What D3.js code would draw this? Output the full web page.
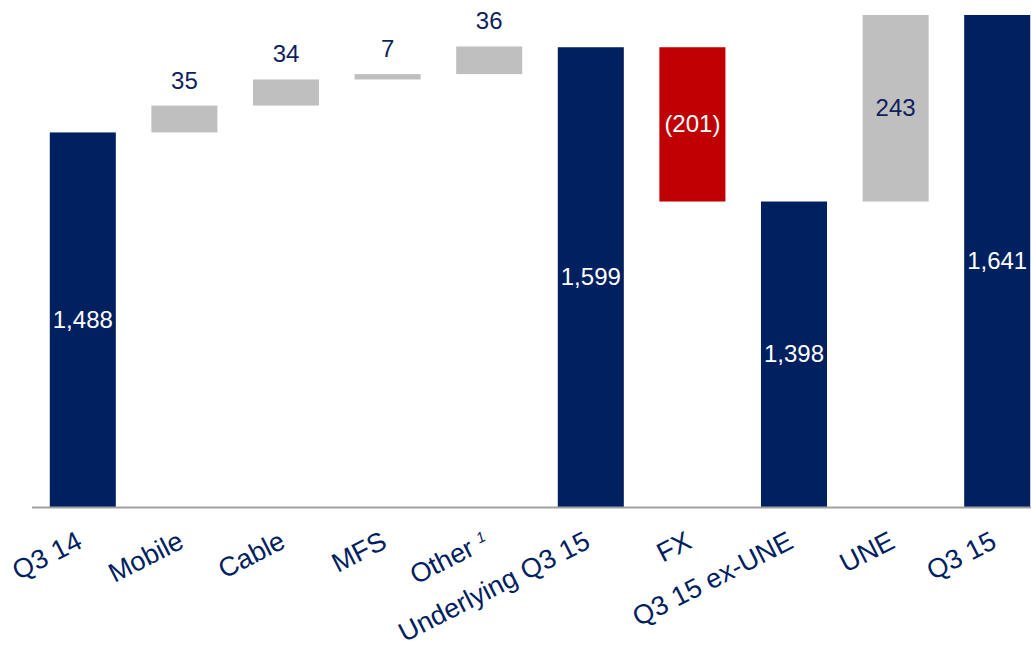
<!DOCTYPE html>
<html><head><meta charset="utf-8">
<script src="https://cdn.jsdelivr.net/npm/d3@7"></script>
<style>body{margin:0;background:#fff;} svg{display:block;}</style>
</head><body>
<svg id="chart" width="1031" height="649"></svg>
<script>
const categories = ["Q3 14","Mobile","Cable","MFS","Other","Underlying Q3 15","FX","Q3 15 ex-UNE","UNE","Q3 15"];
const values = [1488, 35, 34, 7, 36, 1599, -201, 1398, 243, 1641];
const kinds = ["total","delta","delta","delta","delta","total","delta","total","delta","total"];
const valueLabels = ["1,488","35","34","7","36","1,599","(201)","1,398","243","1,641"];
const axisMin = 1000;

const W = 1031, H = 649;
const svg = d3.select("#chart");
const navy = "#002060", red = "#C00000", gray = "#BFBFBF", textNavy = "#0f1f5c";

const x = d3.scaleBand().domain(categories).range([32, 1048]).paddingInner(0.35).paddingOuter(0.175);
const y = d3.scaleLinear().domain([axisMin, d3.max(values)]).range([507, 15]);

let run = 0;
const bars = categories.map((c, i) => {
  let lo, hi;
  if (kinds[i] === "total") { lo = axisMin; hi = values[i]; run = values[i]; }
  else { lo = run; hi = run + values[i]; run = hi; }
  return {c, i, y0: Math.min(lo, hi), y1: Math.max(lo, hi), kind: kinds[i], v: values[i]};
});

const color = d => d.kind === "total" ? navy : (d.v < 0 ? red : gray);

svg.append("g").selectAll("rect").data(bars).join("rect")
  .attr("x", d => x(d.c)).attr("width", x.bandwidth())
  .attr("y", d => y(d.y1)).attr("height", d => y(d.y0) - y(d.y1))
  .attr("fill", color);

// baseline axis
svg.append("line").attr("x1", 32).attr("x2", W).attr("y1", 507.5).attr("y2", 507.5)
  .attr("stroke", "#a0a0a0").attr("stroke-width", 2);

// value labels
svg.append("g").selectAll("text").data(bars).join("text")
  .attr("x", d => x(d.c) + x.bandwidth() / 2)
  .attr("y", d => {
    const h = y(d.y0) - y(d.y1);
    return h > 40 ? (y(d.y0) + y(d.y1)) / 2 + 8 : y(d.y1) - 17;
  })
  .attr("text-anchor", "middle")
  .attr("font-family", "Liberation Sans, Arial, sans-serif")
  .attr("font-size", 24)
  .attr("fill", d => (d.kind === "total" || d.v < 0) ? "#fff" : textNavy)
  .text(d => valueLabels[d.i]);

// category labels
const lab = svg.append("g").selectAll("text").data(categories).join("text")
  .attr("transform", c => `translate(${x(c) + x.bandwidth() / 2 + 1},${547}) rotate(-27)`)
  .attr("text-anchor", "end")
  .attr("font-family", "Liberation Sans, Arial, sans-serif")
  .attr("font-size", 27)
  .attr("fill", navy);
lab.each(function(c) {
  const t = d3.select(this);
  t.append("tspan").text(c);
  if (c === "Other") {
    t.append("tspan").text(" ");
    t.append("tspan").attr("font-size", 15).attr("font-style", "italic").attr("baseline-shift", "super").text("1");
  }
});
</script>
</body></html>
